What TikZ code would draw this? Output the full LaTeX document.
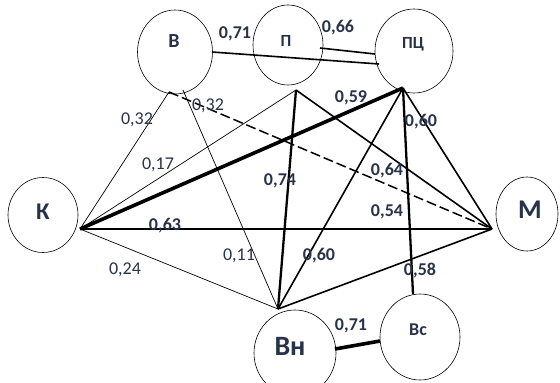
\documentclass[tikz,border=0pt]{standalone}
\usepackage{fontspec}
\setmainfont{Carlito}
\usetikzlibrary{shapes.geometric}
\definecolor{lbl}{HTML}{283248}
\tikzset{
  circ/.style={draw, ellipse, line width=0.6pt, inner sep=0pt},
  ltr/.style={font=\bfseries, text=lbl, inner sep=0pt},
  num/.style={text=lbl, inner sep=0pt, font=\fontsize{18}{18}\selectfont},
  bnum/.style={num, font=\fontsize{18}{18}\selectfont\bfseries},
  thin/.style={line width=0.7pt},
  med/.style={line width=1.6pt},
  thick2/.style={line width=2.3pt},
  heavy/.style={line width=3.6pt},
  dashedge/.style={line width=1.5pt, dash pattern=on 10pt off 4pt}
}
\begin{document}
\begin{tikzpicture}[x=1pt,y=-1pt]
\useasboundingbox (0,0) rectangle (560,383);
\fill[white] (0,0) rectangle (560,383);
% circles
\node[circ, minimum width=75pt, minimum height=84pt] (cB) at (175,52) {};
\node[circ, minimum width=70pt, minimum height=80pt] (cP) at (288,45) {};
\node[circ, minimum width=78pt, minimum height=84pt] (cPC) at (414,51) {};
\node[circ, minimum width=70pt, minimum height=75pt] (cK) at (43,215) {};
\node[circ, minimum width=62pt, minimum height=74pt] (cM) at (527,214) {};
\node[circ, minimum width=82pt, minimum height=86pt] (cVn) at (295,353) {};
\node[circ, minimum width=80pt, minimum height=86pt] (cVs) at (420,337) {};
% letters
\node[ltr, font=\fontsize{20}{20}\selectfont\bfseries] (tB) at (174,41) {В};
\node[ltr, font=\fontsize{17}{17}\selectfont\bfseries] (tP) at (286,41) {П};
\node[ltr, font=\fontsize{17}{17}\selectfont\bfseries] (tPC) at (413,44) {ПЦ};
\node[ltr, font=\fontsize{24}{24}\selectfont\bfseries] (tK) at (43,212) {К};
\node[ltr, font=\fontsize{27}{27}\selectfont\bfseries] (tM) at (530,210) {М};
\node[ltr, font=\fontsize{28}{28}\selectfont\bfseries] (tVn) at (290,346) {Вн};
\node[ltr, font=\fontsize{18}{18}\selectfont\bfseries] (tVs) at (418,330) {Вс};
% hub points
\coordinate (hK) at (80,229);
\coordinate (hM) at (492,229);
\coordinate (hPC) at (403,88);
\coordinate (hB) at (169,92);
\coordinate (hB2) at (183,90);
\coordinate (hP) at (296,90);
\coordinate (hVn) at (278,309);
\coordinate (hVs) at (413,294);
\coordinate (hBr) at (212,52);
\coordinate (hPCl) at (379,64);
\coordinate (hPr) at (320,48);
\coordinate (hPCl2) at (375,54);
\coordinate (hVnr) at (335,349);
\coordinate (hVsl) at (380,341);
% edges
\draw[med] (hBr) -- (hPCl);
\draw[med] (hPr) -- (hPCl2);
\draw[thin] (hK) -- (hB);
\draw[thin] (hK) -- (hP);
\draw[heavy] (hK) -- (hPC);
\draw[thick2] (hK) -- (hM);
\draw[thin] (hK) -- (hVn);
\draw[dashedge] (hB) -- (hM);
\draw[thin] (hB2) -- (hVn);
\draw[med] (hP) -- (hM);
\draw[thick2] (hP) -- (hVn);
\draw[med] (hPC) -- (hM);
\draw[med] (hPC) -- (hVn);
\draw[thick2] (hPC) -- (hVs);
\draw[med] (hVn) -- (hM);
\draw[heavy] (hVnr) -- (hVsl);
% labels
\node[bnum] (l1) at (235,34) {0,71};
\node[bnum] (l2) at (338,28) {0,66};
\node[num] (l3) at (137,120) {0,32};
\node[num] (l4) at (208,106) {0,32};
\node[num] (l5) at (158,165) {0,17};
\node[bnum] (l6) at (351,98) {0,59};
\node[bnum] (l7) at (421,122) {0,60};
\node[bnum] (l8) at (280,181) {0,74};
\node[bnum] (l9) at (387,171) {0,64};
\node[bnum] (l10) at (165,226) {0,63};
\node[bnum] (l11) at (387,212) {0,54};
\node[num] (l12) at (125,270) {0,24};
\node[num] (l13) at (239,256) {0,11};
\node[bnum] (l14) at (319,256) {0,60};
\node[bnum] (l15) at (420,270) {0,58};
\node[bnum] (l16) at (351,326) {0,71};
\end{tikzpicture}
\end{document}
